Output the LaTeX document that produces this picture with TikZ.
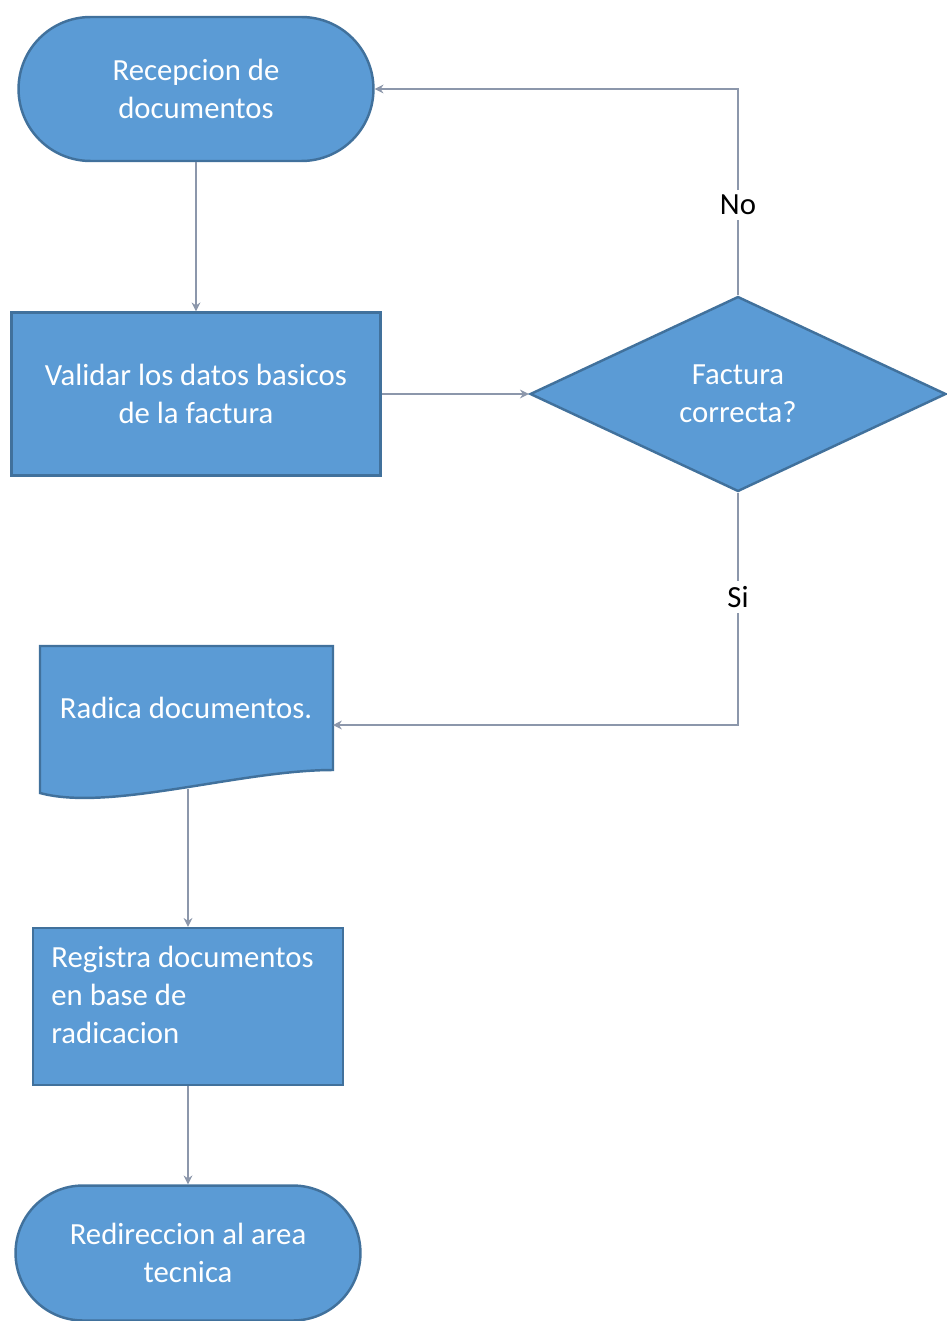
\documentclass[tikz,border=0pt]{standalone}
\usepackage{fontspec}
\setmainfont{Carlito}
\usetikzlibrary{shapes.geometric,shapes.misc,arrows.meta}
\definecolor{boxfill}{HTML}{5B9BD5}
\definecolor{boxline}{HTML}{41719C}
\definecolor{linkcol}{HTML}{8C97AB}
\begin{document}
\begin{tikzpicture}[x=0.02cm,y=-0.02cm,
  shapebox/.style={fill=boxfill,draw=boxline,line width=1.4pt,text=white,
    font=\fontsize{17.5}{21.5}\selectfont,align=center,inner sep=0pt},
  terminal/.style={shapebox,rounded rectangle},
  process/.style={shapebox,rectangle},
  decision/.style={shapebox,diamond},
  docshape/.style={fill=boxfill,draw=boxline,line width=1.4pt},
  plain/.style={text=white,font=\fontsize{17.5}{21.5}\selectfont,inner sep=0pt},
  link/.style={draw=linkcol,line width=1.5pt,-{Stealth[length=5pt,width=5pt]}},
  tag/.style={fill=white,text=black,font=\fontsize{17.5}{20}\selectfont,inner sep=3pt}]
\useasboundingbox (0,0) rectangle (946,1321);

% flowchart shapes
\node[terminal,minimum width=7.1cm,minimum height=2.88cm] (rec) at (196,89) {Recepcion de\\documentos};
\node[process,minimum width=7.38cm,minimum height=3.26cm] (val) at (196,394) {Validar los datos basicos\\de la factura};
\node[decision,minimum width=8.32cm,minimum height=3.9cm] (dia) at (738,394) {Factura\\correcta?};

% document symbol with a wavy lower edge
\path[docshape] (40,646) -- (333,646) -- (333,770)
  .. controls (240,770) and (110,812) .. (40,793) -- cycle;
\node[plain] (doc) at (186,708) {Radica documentos.};
\coordinate (docin) at (333,725);
\coordinate (docout) at (188,789);

\node[process,minimum width=6.2cm,minimum height=3.14cm] (reg) at (188,1006.5) {};
\node[plain,anchor=north west,align=left] (regtxt) at (51,946) {Registra documentos\\en base de\\radicacion};
\node[terminal,minimum width=6.9cm,minimum height=2.7cm] (red) at (188,1253) {Redireccion al area\\tecnica};

% connectors
\draw[link] (rec.south) -- (val.north);
\draw[link] (val.east) -- (dia.west);
\draw[link] (dia.north) |- (rec.east);
\draw[link] (dia.south) |- (docin);
\draw[link] (docout) -- (reg.north);
\draw[link] (reg.south) -- (red.north);

% branch labels
\node[tag] (no) at (738,205) {No};
\node[tag] (si) at (738,597) {Si};
\end{tikzpicture}
\end{document}
